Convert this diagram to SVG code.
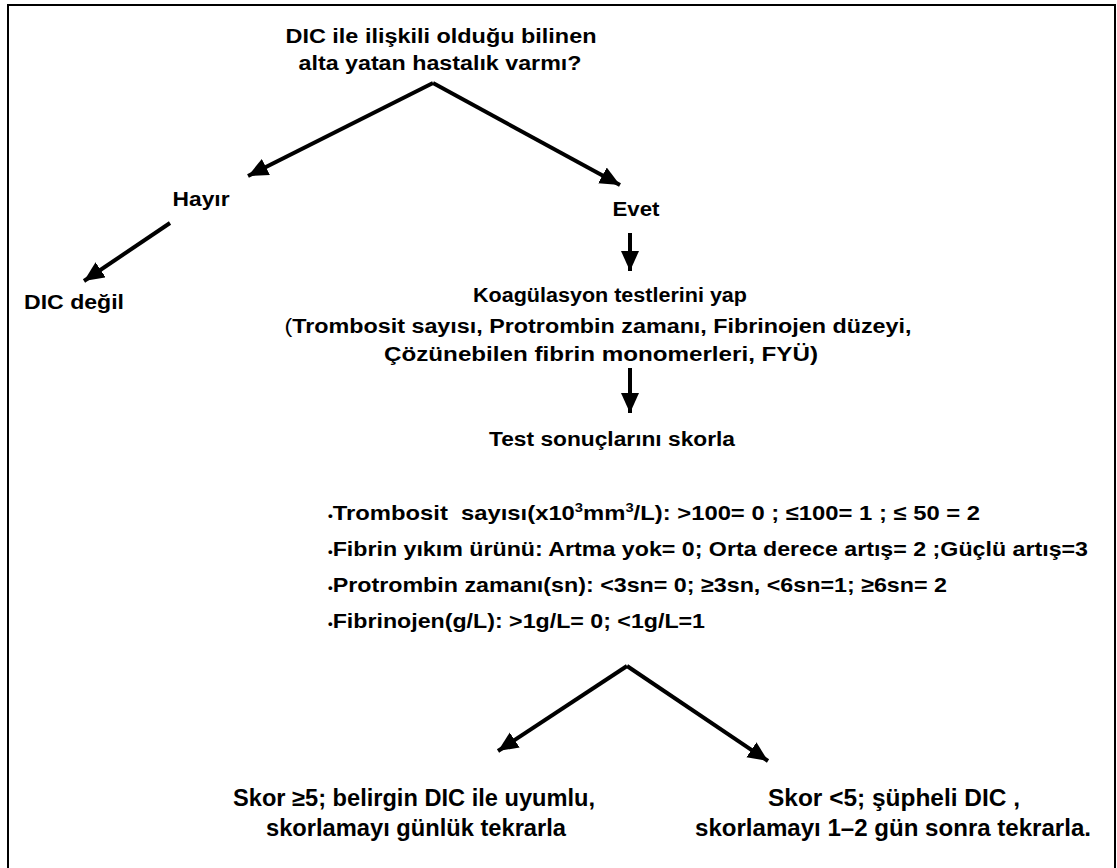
<svg xmlns="http://www.w3.org/2000/svg" width="1117" height="868" viewBox="0 0 1117 868">
<style>
text{font-family:"Liberation Sans",Arial,sans-serif;font-weight:bold;fill:#000;font-size:20px;white-space:pre}
.c{text-anchor:middle}
.bl{font-size:21px}
.bt{font-size:23px}
.conn line{stroke:#000;stroke-width:4}
.b{font-size:12px}
</style>
<defs>
<marker id="ah" markerUnits="userSpaceOnUse" markerWidth="24" markerHeight="20" refX="20" refY="9" orient="auto">
<path d="M0,0 L20,9 L0,18 Z" fill="#000"/>
</marker>
</defs>
<rect x="8" y="5" width="1107" height="870" fill="#fff" stroke="#000" stroke-width="2"/>
<g class="conn" id="connectors">
<line x1="433" y1="83" x2="248" y2="176" marker-end="url(#ah)"/>
<line x1="433" y1="83" x2="620" y2="185" marker-end="url(#ah)"/>
<line x1="170" y1="223" x2="84" y2="281" marker-end="url(#ah)"/>
<line x1="630" y1="233" x2="630" y2="271" marker-end="url(#ah)"/>
<line x1="630" y1="368" x2="630" y2="413" marker-end="url(#ah)"/>
<line x1="627" y1="666" x2="498" y2="751" marker-end="url(#ah)"/>
<line x1="627" y1="666" x2="768" y2="761" marker-end="url(#ah)"/>
</g>
<g id="question">
<text class="c" x="441" y="43" textLength="311" lengthAdjust="spacingAndGlyphs">DIC ile ilişkili olduğu bilinen</text>
<text class="c" x="440" y="70" textLength="283" lengthAdjust="spacingAndGlyphs">alta yatan hastalık varmı?</text>
</g>
<g id="hayir"><text class="c" x="201" y="206" textLength="57" lengthAdjust="spacingAndGlyphs">Hayır</text></g>
<g id="dicdegil"><text x="24" y="309" textLength="100" lengthAdjust="spacingAndGlyphs">DIC değil</text></g>
<g id="evet"><text class="c" x="636" y="216" textLength="47" lengthAdjust="spacingAndGlyphs">Evet</text></g>
<g id="koag">
<text class="c" x="610" y="302" textLength="274" lengthAdjust="spacingAndGlyphs">Koagülasyon testlerini yap</text>
<text class="c" x="598" y="333" textLength="627" lengthAdjust="spacingAndGlyphs"><tspan font-weight="normal">(</tspan>Trombosit sayısı, Protrombin zamanı, Fibrinojen düzeyi,</text>
<text class="c" x="601" y="361" textLength="434" lengthAdjust="spacingAndGlyphs">Çözünebilen fibrin monomerleri, FYÜ)</text>
</g>
<g id="skorla"><text class="c" x="612" y="446" textLength="246" lengthAdjust="spacingAndGlyphs">Test sonuçlarını skorla</text></g>
<g id="kriterler">
<text class="bl" x="328" y="520" textLength="652" lengthAdjust="spacingAndGlyphs"><tspan class="b">•</tspan>Trombosit  sayısı(x10<tspan font-size="13" dy="-8">3</tspan><tspan dy="8">mm</tspan><tspan font-size="13" dy="-8">3</tspan><tspan dy="8">/L): &gt;100= 0 ; ≤100= 1 ; ≤ 50 = 2</tspan></text>
<text class="bl" x="328" y="556" textLength="760" lengthAdjust="spacingAndGlyphs"><tspan class="b">•</tspan>Fibrin yıkım ürünü: Artma yok= 0; Orta derece artış= 2 ;Güçlü artış=3</text>
<text class="bl" x="328" y="592" textLength="619" lengthAdjust="spacingAndGlyphs"><tspan class="b">•</tspan>Protrombin zamanı(sn): &lt;3sn= 0; ≥3sn, &lt;6sn=1; ≥6sn= 2</text>
<text class="bl" x="328" y="628" textLength="377" lengthAdjust="spacingAndGlyphs"><tspan class="b">•</tspan>Fibrinojen(g/L): &gt;1g/L= 0; &lt;1g/L=1</text>
</g>
<g id="sonuc1">
<text class="c bt" x="414" y="806" textLength="362" lengthAdjust="spacingAndGlyphs">Skor ≥5; belirgin DIC ile uyumlu,</text>
<text class="c bt" x="416" y="836" textLength="300" lengthAdjust="spacingAndGlyphs">skorlamayı günlük tekrarla</text>
</g>
<g id="sonuc2">
<text class="c bt" x="894" y="806" textLength="252" lengthAdjust="spacingAndGlyphs">Skor &lt;5; şüpheli DIC ,</text>
<text class="c bt" x="893" y="836" textLength="396" lengthAdjust="spacingAndGlyphs">skorlamayı 1–2 gün sonra tekrarla.</text>
</g>
</svg>
